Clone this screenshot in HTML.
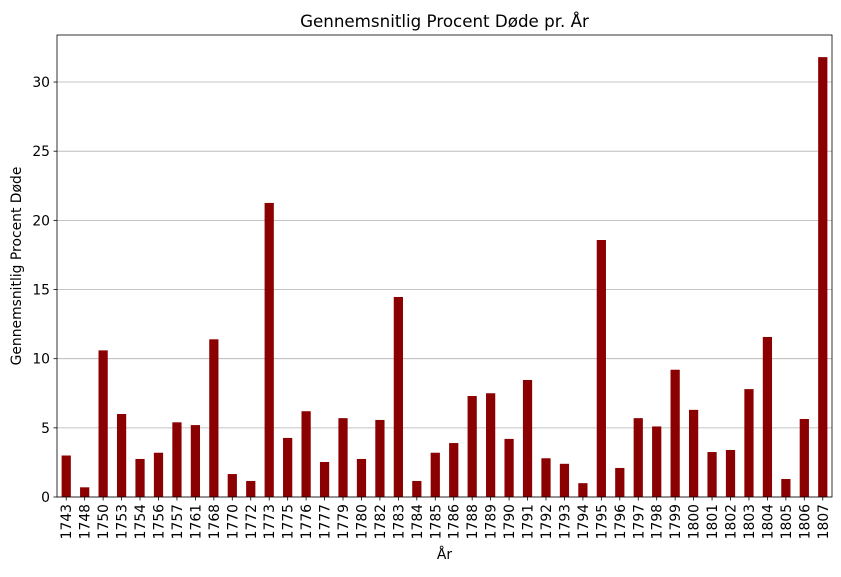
<!DOCTYPE html>
<html><head><meta charset="utf-8"><style>
body{margin:0;background:#fff;font-family:"Liberation Sans","DejaVu Sans",sans-serif;}
svg text{font-family:"DejaVu Sans","Liberation Sans",sans-serif;}
</style></head><body>
<svg id="chart" width="841" height="572" xmlns="http://www.w3.org/2000/svg"></svg>
<script>
const categories=["1743","1748","1750","1753","1754","1756","1757","1761","1768","1770","1772","1773","1775","1776","1777","1779","1780","1782","1783","1784","1785","1786","1788","1789","1790","1791","1792","1793","1794","1795","1796","1797","1798","1799","1800","1801","1802","1803","1804","1805","1806","1807"];
const values=[3.0,0.7,10.6,6.0,2.75,3.2,5.4,5.2,11.4,1.66,1.16,21.26,4.27,6.2,2.53,5.7,2.75,5.57,14.46,1.16,3.2,3.9,7.3,7.5,4.2,8.46,2.8,2.4,1.0,18.58,2.1,5.7,5.1,9.2,6.3,3.25,3.4,7.8,11.57,1.3,5.64,31.8];
const yTicks=[0,5,10,15,20,25,30];
const svg=document.getElementById('chart');
const NS="http://www.w3.org/2000/svg";
const L=57,R=832,T=35,B=497,yMax=33.4;
const FS=13.9;
const y=v=>B-(v/yMax)*(B-T);
const step=(R-L)/categories.length;
const x=i=>L+step*(i+0.5);
function mk(tag,attrs,parent){const e=document.createElementNS(NS,tag);for(const k in attrs)e.setAttribute(k,attrs[k]);(parent||svg).appendChild(e);return e;}
yTicks.forEach(t=>{
  const g=mk('line',{x1:L,x2:R,y1:y(t),y2:y(t),stroke:'#b0b0b0','stroke-width':0.8});
  
  
  mk('line',{x1:L-3.5,x2:L,y1:y(t),y2:y(t),stroke:'#000','stroke-width':0.8});
  const tx=mk('text',{x:L-7,y:y(t)+5,'text-anchor':'end','font-size':FS,fill:'#000'});
  tx.textContent=t;
  
  
});
categories.forEach((c,i)=>{
  const w=step*0.5;
  const b=mk('rect',{x:x(i)-w/2,y:y(values[i]),width:w,height:B-y(values[i]),fill:'#8b0000'});
  
  
  mk('line',{x1:x(i),x2:x(i),y1:B,y2:B+3.5,stroke:'#000','stroke-width':0.8});
  const tx=mk('text',{x:0,y:0,'text-anchor':'end','font-size':FS,fill:'#000',transform:`translate(${x(i)+5},${B+7}) rotate(-90)`});
  tx.textContent=c;
  
  
});
const fr=mk('rect',{x:L,y:T,width:R-L,height:B-T,fill:'none',stroke:'#000','stroke-width':0.8});


const ti=mk('text',{x:(L+R)/2,y:27,'text-anchor':'middle','font-size':16.7,fill:'#000'});
ti.textContent="Gennemsnitlig Procent Døde pr. År";


const xt=mk('text',{x:(L+R)/2,y:559,'text-anchor':'middle','font-size':FS,fill:'#000'});
xt.textContent="År";


const yt=mk('text',{x:0,y:0,'text-anchor':'middle','font-size':FS,fill:'#000',transform:`translate(21,${(T+B)/2}) rotate(-90)`});
yt.textContent="Gennemsnitlig Procent Døde";


</script>
</body></html>
